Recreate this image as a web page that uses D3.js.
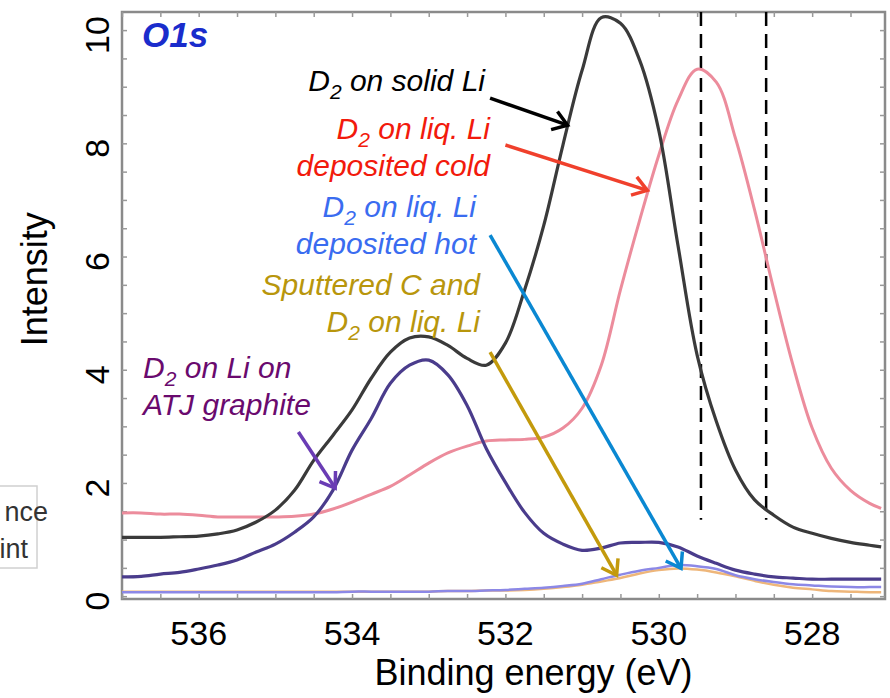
<!DOCTYPE html>
<html>
<head>
<meta charset="utf-8">
<script src="https://cdn.jsdelivr.net/npm/d3@7"></script>
<style>
  body { margin: 0; background: #fff; }
  svg { font-family: 'Liberation Sans', Arial, sans-serif; }
  .tick-label { font-size: 34px; fill: #000; }
  .axis-title { font-size: 36px; fill: #000; }
  .note { font-size: 30px; font-style: italic; }
</style>
</head>
<body>
<svg class="O1sChart" width="890" height="698"></svg>
<script>
// binding energy grid (eV) shared by all spectra
const energies = [537, 536.75, 536.5, 536.25, 536, 535.75, 535.5, 535.25, 535, 534.75,
    534.5, 534.25, 534, 533.75, 533.5, 533.25, 533, 532.75, 532.5, 532.25,
    532, 531.75, 531.5, 531.25, 531, 530.75, 530.5, 530.25, 530, 529.75,
    529.5, 529.25, 529, 528.75, 528.5, 528.25, 528, 527.75, 527.5, 527.25, 527.1];

const solidLi = [1.04, 1.04, 1.04, 1.05, 1.06, 1.10, 1.17, 1.31, 1.52, 1.87,
    2.40, 2.84, 3.29, 3.85, 4.31, 4.56, 4.58, 4.43, 4.20, 4.08,
    4.47, 5.41, 6.55, 7.97, 9.29, 10.22, 10.12, 9.47, 8.23, 6.20,
    4.26, 3.09, 2.23, 1.70, 1.43, 1.22, 1.11, 1.02, 0.95, 0.90, 0.87];

const liqCold = [1.47, 1.47, 1.45, 1.45, 1.43, 1.40, 1.40, 1.40, 1.40, 1.41,
    1.45, 1.54, 1.66, 1.80, 1.94, 2.14, 2.35, 2.53, 2.65, 2.74,
    2.76, 2.77, 2.81, 2.97, 3.32, 4.08, 5.41, 6.64, 7.79, 8.76,
    9.31, 9.08, 8.09, 6.82, 5.41, 4.08, 2.97, 2.26, 1.87, 1.64, 1.55];

const liqHot = [0.07, 0.07, 0.07, 0.07, 0.07, 0.07, 0.07, 0.07, 0.07, 0.07,
    0.07, 0.07, 0.08, 0.08, 0.08, 0.08, 0.08, 0.09, 0.09, 0.10,
    0.11, 0.13, 0.15, 0.18, 0.22, 0.30, 0.38, 0.45, 0.50, 0.55,
    0.53, 0.48, 0.37, 0.30, 0.25, 0.21, 0.19, 0.17, 0.16, 0.16, 0.16];

const sputteredC = [0.08, 0.08, 0.08, 0.08, 0.08, 0.08, 0.08, 0.08, 0.08, 0.08,
    0.08, 0.08, 0.08, 0.08, 0.08, 0.08, 0.08, 0.09, 0.09, 0.10,
    0.10, 0.11, 0.13, 0.16, 0.20, 0.26, 0.32, 0.40, 0.46, 0.49,
    0.47, 0.42, 0.35, 0.27, 0.20, 0.15, 0.12, 0.09, 0.08, 0.07, 0.07];

const atjGraphite = [0.34, 0.35, 0.39, 0.42, 0.48, 0.55, 0.64, 0.78, 0.92, 1.13,
    1.40, 1.87, 2.58, 3.14, 3.76, 4.08, 4.17, 3.91, 3.37, 2.61,
    2.01, 1.48, 1.11, 0.92, 0.81, 0.85, 0.94, 0.95, 0.95, 0.87,
    0.71, 0.58, 0.46, 0.39, 0.34, 0.32, 0.30, 0.30, 0.30, 0.30, 0.30];

const xTicks = [536, 534, 532, 530, 528];
const yTicks = [0, 2, 4, 6, 8, 10];
const refEnergies = [529.45, 528.6];

function renderO1s()
{
    const margin = { 'top' : 12, 'left' : 122, 'right' : 5, 'bottom' : 99 };
    const width = 890 - margin.left - margin.right;
    const height = 698 - margin.top - margin.bottom;

    const svg = d3.select('.O1sChart');
    const chart = svg.append('g')
        .attr('transform', `translate(${margin.left}, ${margin.top})`);

    const xScale = d3.scaleLinear()
        .domain([537, 527.05])
        .range([0, width]);

    const yScale = d3.scaleLinear()
        .domain([-0.05, 10.32])
        .range([height, 0]);

    // frame
    chart.append('rect')
        .attr('width', width)
        .attr('height', height)
        .attr('fill', 'none')
        .attr('stroke', '#8a8a8a')
        .attr('stroke-width', 2.5);

    // small inward ticks on every side
    const minorX = d3.range(537, 527, -0.5);
    const minorY = d3.range(0, 10.5, 0.5);
    chart.append('g')
        .attr('transform', `translate(0, ${height})`)
        .call(d3.axisBottom(xScale).tickValues(minorX).tickSize(-5).tickFormat(''))
        .call(g => g.select('.domain').remove());
    chart.append('g')
        .call(d3.axisTop(xScale).tickValues(minorX).tickSize(-5).tickFormat(''))
        .call(g => g.select('.domain').remove());
    chart.append('g')
        .call(d3.axisLeft(yScale).tickValues(minorY).tickSize(-5).tickFormat(''))
        .call(g => g.select('.domain').remove());
    chart.append('g')
        .attr('transform', `translate(${width}, 0)`)
        .call(d3.axisRight(yScale).tickValues(minorY).tickSize(-5).tickFormat(''))
        .call(g => g.select('.domain').remove());
    chart.selectAll('.tick line').attr('stroke', '#999').attr('stroke-width', 1.5);

    // tick labels
    chart.selectAll('.x-label')
        .data(xTicks)
        .enter()
        .append('text')
        .attr('class', 'tick-label')
        .attr('x', d => xScale(d))
        .attr('y', height + 46)
        .attr('text-anchor', 'middle')
        .text(d => d);

    chart.selectAll('.y-label')
        .data(yTicks)
        .enter()
        .append('text')
        .attr('class', 'tick-label')
        .attr('transform', d => `translate(-13, ${yScale(d) + 5}) rotate(-90)`)
        .attr('text-anchor', 'middle')
        .text(d => d);

    chart.append('text')
        .attr('class', 'axis-title')
        .attr('x', width / 2 + 30)
        .attr('y', height + 86)
        .attr('text-anchor', 'middle')
        .text('Binding energy (eV)');

    chart.append('text')
        .attr('class', 'axis-title')
        .attr('transform', `translate(-75, ${yScale(5.6)}) rotate(-90)`)
        .attr('text-anchor', 'middle')
        .text('Intensity');

    // reference dashed lines
    chart.selectAll('.ref')
        .data(refEnergies)
        .enter()
        .append('line')
        .attr('x1', d => xScale(d))
        .attr('x2', d => xScale(d))
        .attr('y1', 0)
        .attr('y2', yScale(1.35))
        .attr('stroke', '#000')
        .attr('stroke-width', 2.5)
        .attr('stroke-dasharray', '14,8');

    const line = d3.line()
        .x(d => xScale(d[0]))
        .y(d => yScale(d[1]))
        .curve(d3.curveCatmullRom.alpha(0.5));

    const spectra = [
        { values : liqCold, color : '#ec8c9c', w : 3 },
        { values : sputteredC, color : '#eeb67a', w : 2.5 },
        { values : liqHot, color : '#8c88e6', w : 2.5 },
        { values : atjGraphite, color : '#4a3c8c', w : 3.2 },
        { values : solidLi, color : '#3a3a3a', w : 3.2 }
    ];

    for(s of spectra){
        chart.append('path')
            .datum(energies.map((e, i) => [e, s.values[i]]))
            .attr('d', line)
            .attr('fill', 'none')
            .attr('stroke', s.color)
            .attr('stroke-width', s.w)
            .attr('stroke-linejoin', 'round');
    }

    // annotation arrows, tail and tip in data units
    const arrows = [
        { from : [532.2, 8.8], to : [531.19, 8.32], color : '#000' },
        { from : [532.0, 7.97], to : [530.15, 7.17], color : '#f0402c' },
        { from : [532.2, 6.38], to : [529.71, 0.49], color : '#0a88d2' },
        { from : [532.2, 4.31], to : [530.55, 0.37], color : '#c39a0c' },
        { from : [534.7, 2.9], to : [534.22, 1.91], color : '#6a3cb4' }
    ];

    for(a of arrows){
        const x1 = xScale(a.from[0]), y1 = yScale(a.from[1]);
        const x2 = xScale(a.to[0]), y2 = yScale(a.to[1]);
        const ang = Math.atan2(y2 - y1, x2 - x1);
        const len = 17, spread = 0.6;
        const g = chart.append('g')
            .attr('stroke', a.color)
            .attr('fill', 'none')
            .attr('stroke-width', 3.5);
        g.append('line')
            .attr('x1', x1).attr('y1', y1)
            .attr('x2', x2).attr('y2', y2);
        g.append('path')
            .attr('stroke-linejoin', 'miter')
            .attr('d', `M${x2 - len * Math.cos(ang - spread)},${y2 - len * Math.sin(ang - spread)}`
                + `L${x2},${y2}`
                + `L${x2 - len * Math.cos(ang + spread)},${y2 - len * Math.sin(ang + spread)}`);
    }

    // labels
    const notes = [
        { lines : [['D', '2', ' on solid Li']], x : 363, y : 79, anchor : 'end', color : '#000' },
        { lines : [['D', '2', ' on liq. Li'], ['deposited cold']], x : 368, y : 127, anchor : 'end', color : '#f21a0c' },
        { lines : [['D', '2', ' on liq. Li'], ['deposited hot']], x : 354, y : 205, anchor : 'end', color : '#3a6cf0' },
        { lines : [['Sputtered C and'], ['D', '2', ' on liq. Li']], x : 358, y : 283, anchor : 'end', color : '#b8960c' },
        { lines : [['D', '2', ' on Li on'], ['ATJ graphite']], x : 21, y : 366, anchor : 'start', color : '#6a0a6e' }
    ];

    for(n of notes){
        n.lines.forEach((parts, k) => {
            const t = chart.append('text')
                .attr('class', 'note')
                .attr('x', n.x)
                .attr('y', n.y + k * 37)
                .attr('text-anchor', n.anchor)
                .attr('fill', n.color);
            t.append('tspan').text(parts[0]);
            if(parts.length > 1){
                t.append('tspan').attr('dy', 8).attr('font-size', '21px').text(parts[1]);
                t.append('tspan').attr('dy', -8).text(parts[2]);
            }
        });
    }

    chart.append('text')
        .attr('x', 20)
        .attr('y', 35)
        .attr('font-size', '35px')
        .attr('font-weight', 'bold')
        .attr('font-style', 'italic')
        .attr('fill', '#1a2ccc')
        .text('O1s');

    // clipped legend box at far left
    const legend = svg.append('g');
    legend.append('rect')
        .attr('x', -20).attr('y', 486)
        .attr('width', 57).attr('height', 82)
        .attr('fill', '#fff')
        .attr('stroke', '#d0d0d0')
        .attr('stroke-width', 1.5);
    legend.append('text')
        .attr('x', 48).attr('y', 521)
        .attr('text-anchor', 'end')
        .attr('font-size', '27px')
        .attr('fill', '#333')
        .text('nce');
    legend.append('text')
        .attr('x', 28).attr('y', 558)
        .attr('text-anchor', 'end')
        .attr('font-size', '27px')
        .attr('fill', '#333')
        .text('int');
}

renderO1s();
</script>
</body>
</html>
